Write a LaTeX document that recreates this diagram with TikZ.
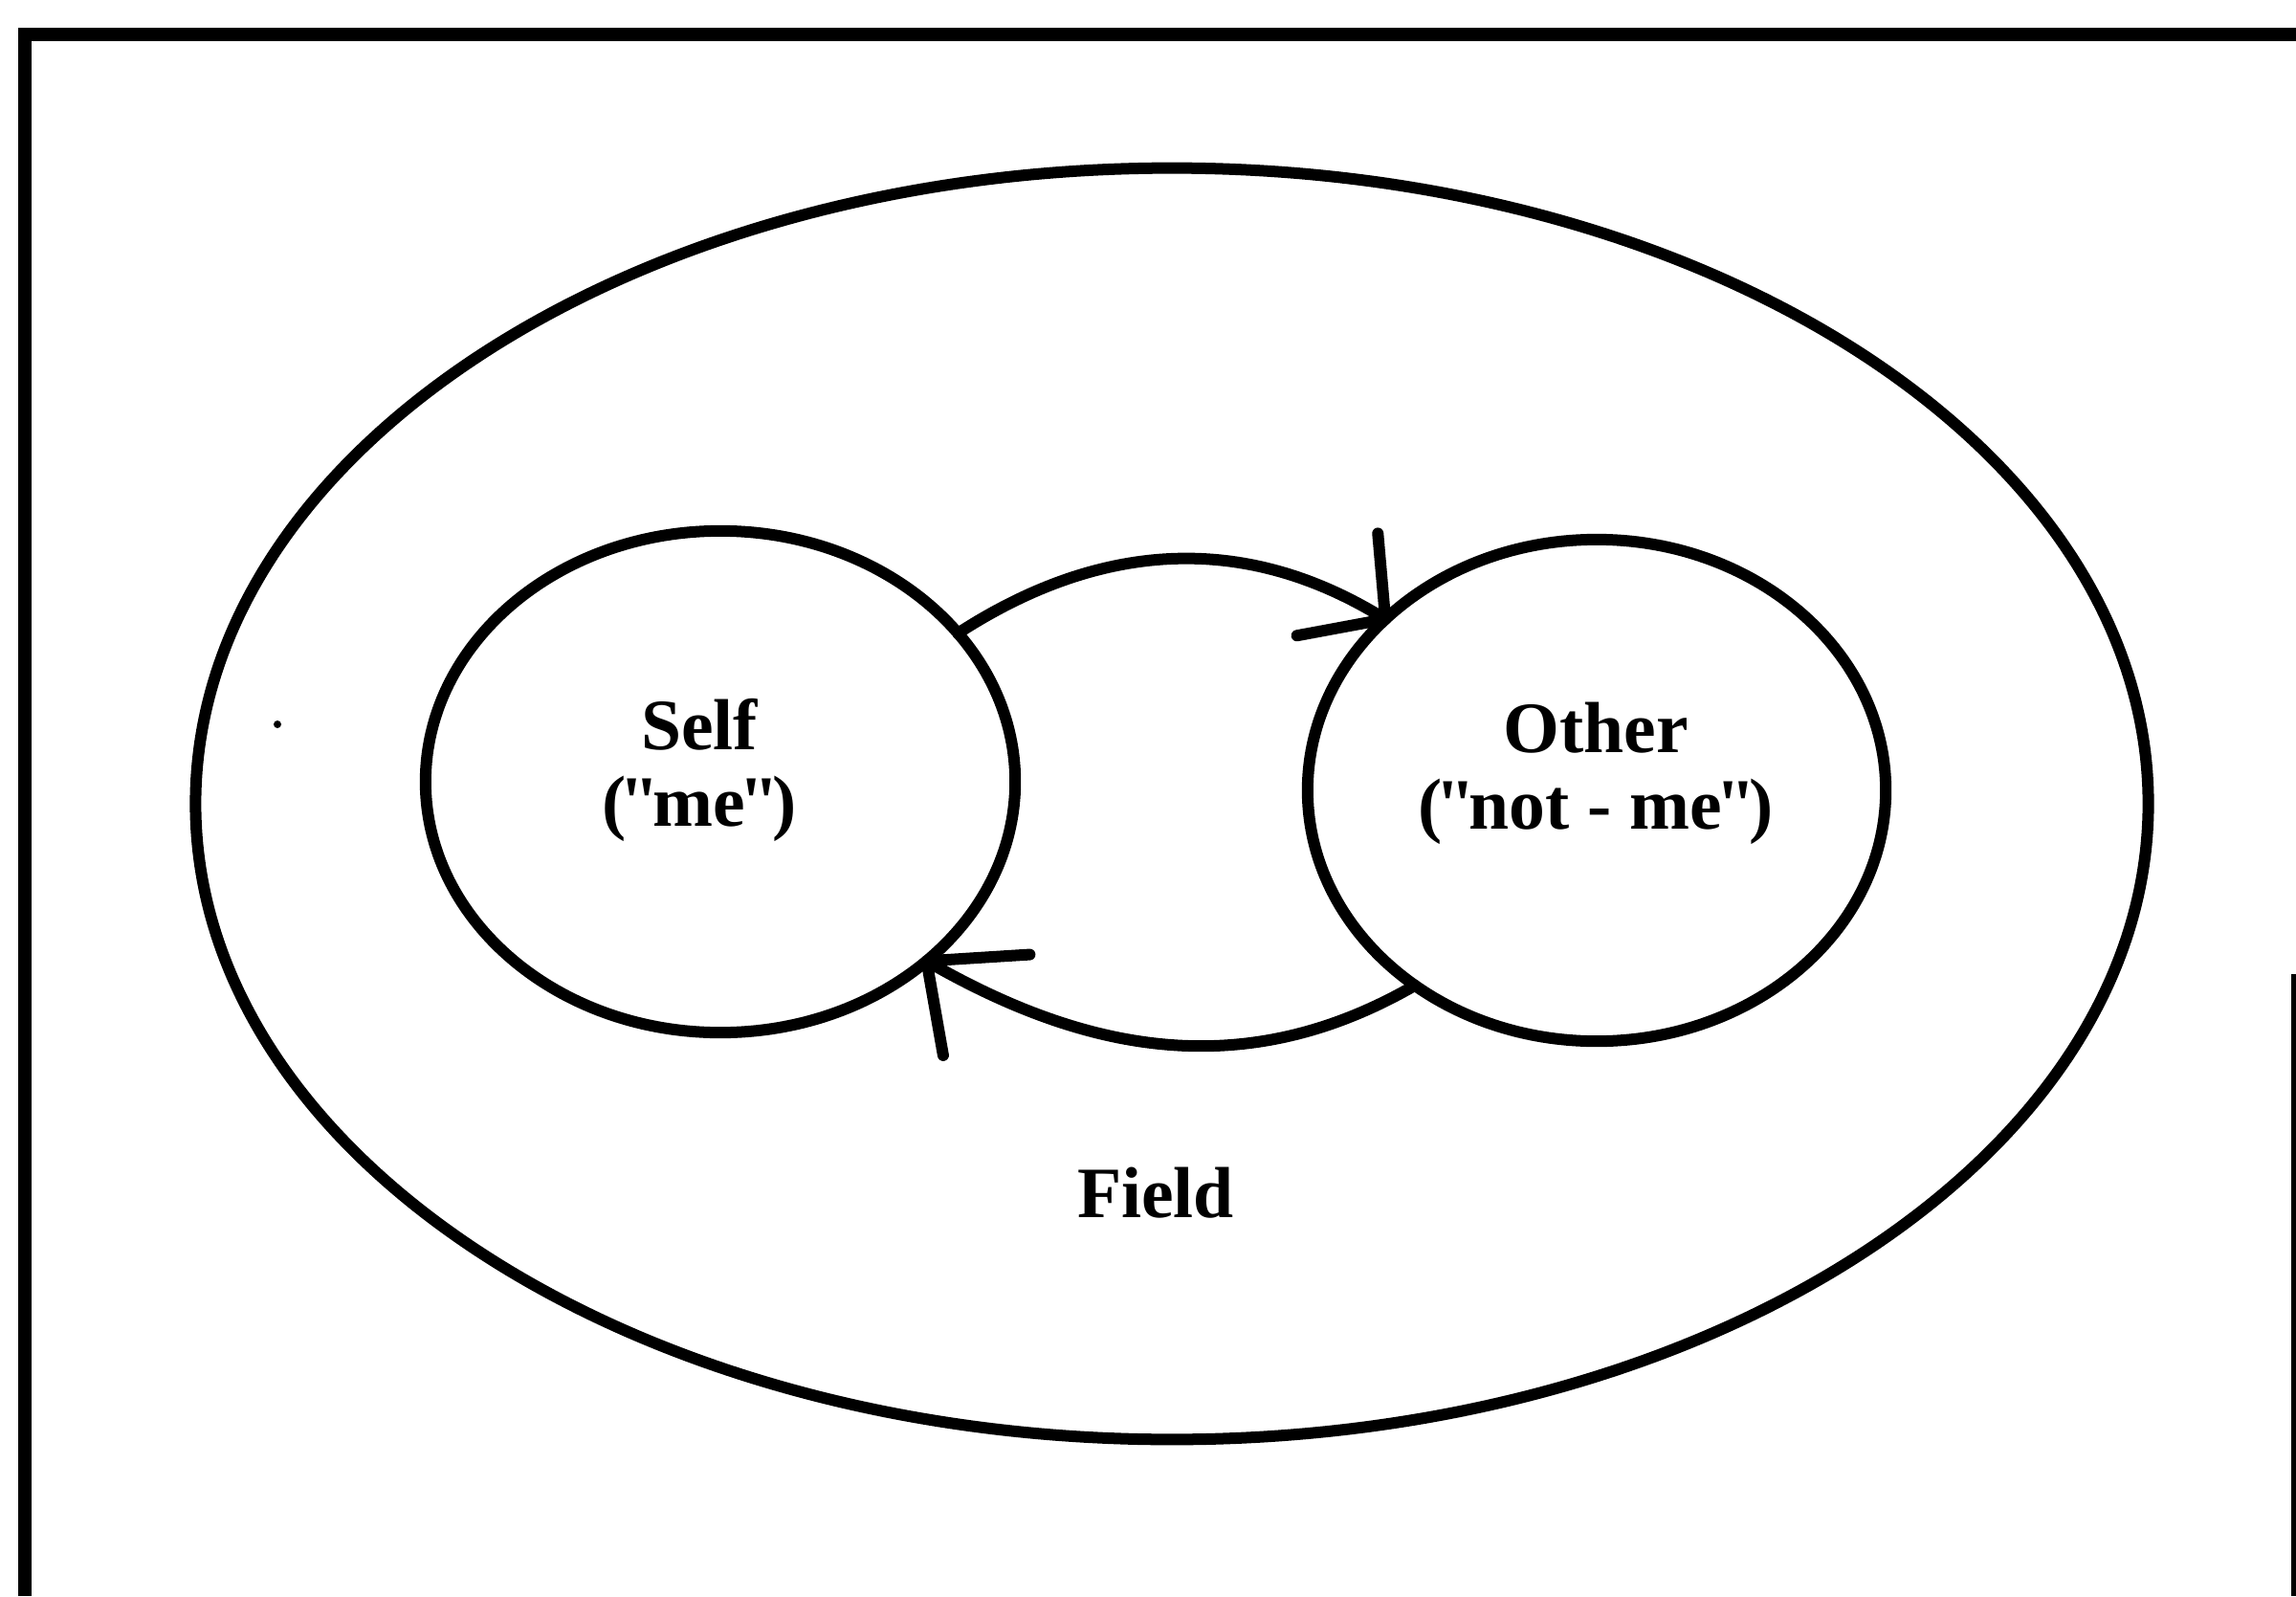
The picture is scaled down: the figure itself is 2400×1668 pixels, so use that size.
\documentclass[tikz,border=0pt]{standalone}
\usepackage{fontspec}
\setmainfont{Liberation Serif}
\newfontfamily\lblfont{Liberation Serif}
\usetikzlibrary{shapes.geometric}
\tikzset{
  framelin/.style={line width=0.14cm, line join=miter},
  ring/.style={draw, ellipse, line width=0.12cm, inner sep=0pt, outer sep=0pt},
  conn/.style={line width=0.12cm, line cap=round, line join=round},
  lbl/.style={font=\lblfont\bfseries\fontsize{21.5}{22.8}\selectfont, align=center, inner sep=0pt}
}
\begin{document}
\begin{tikzpicture}[x=0.01cm, y=0.01cm]
\useasboundingbox (0,0) rectangle (2400,1668);
% frame
\coordinate (ftr) at (2400,1632);
\coordinate (ftl) at (26,1632);
\coordinate (fbl) at (26,0);
\draw[framelin] (ftr) -- (ftl) -- (fbl);
\coordinate (rtop) at (2397,650);
\coordinate (rbot) at (2397,0);
\draw[line width=0.05cm] (rtop) -- (rbot);
% ellipses
\node[ring, minimum width=20.4cm, minimum height=13.28cm] (field) at (1225,828) {};
\node[ring, minimum width=6.16cm, minimum height=5.24cm] (self) at (753,851) {};
\node[ring, minimum width=6.04cm, minimum height=5.24cm] (other) at (1669,842) {};
% labels
\node[lbl] (selft) at (731,863) {Self\\(\kern-2pt"\kern-2pt me\kern-2pt"\kern-2pt)};
\node[lbl] (othert) at (1668,860) {Other\\(\kern-2pt"\kern-2pt not - me\kern-2pt"\kern-2pt)};
\node[lbl] (fieldt) at (1208,421) {Field};
% connectors
\draw[conn] (self.32) to[out=33,in=148] (other.141)
  -- ++(95:0.9cm) (other.141) -- ++(190.5:0.94cm);
\draw[conn] (other.227) to[out=210,in=-30] (self.319)
  -- ++(3.6:1.08cm) (self.319) -- ++(-80:1.0cm);
% speck
\fill (290,911) circle (0.04cm);
\end{tikzpicture}
\end{document}
